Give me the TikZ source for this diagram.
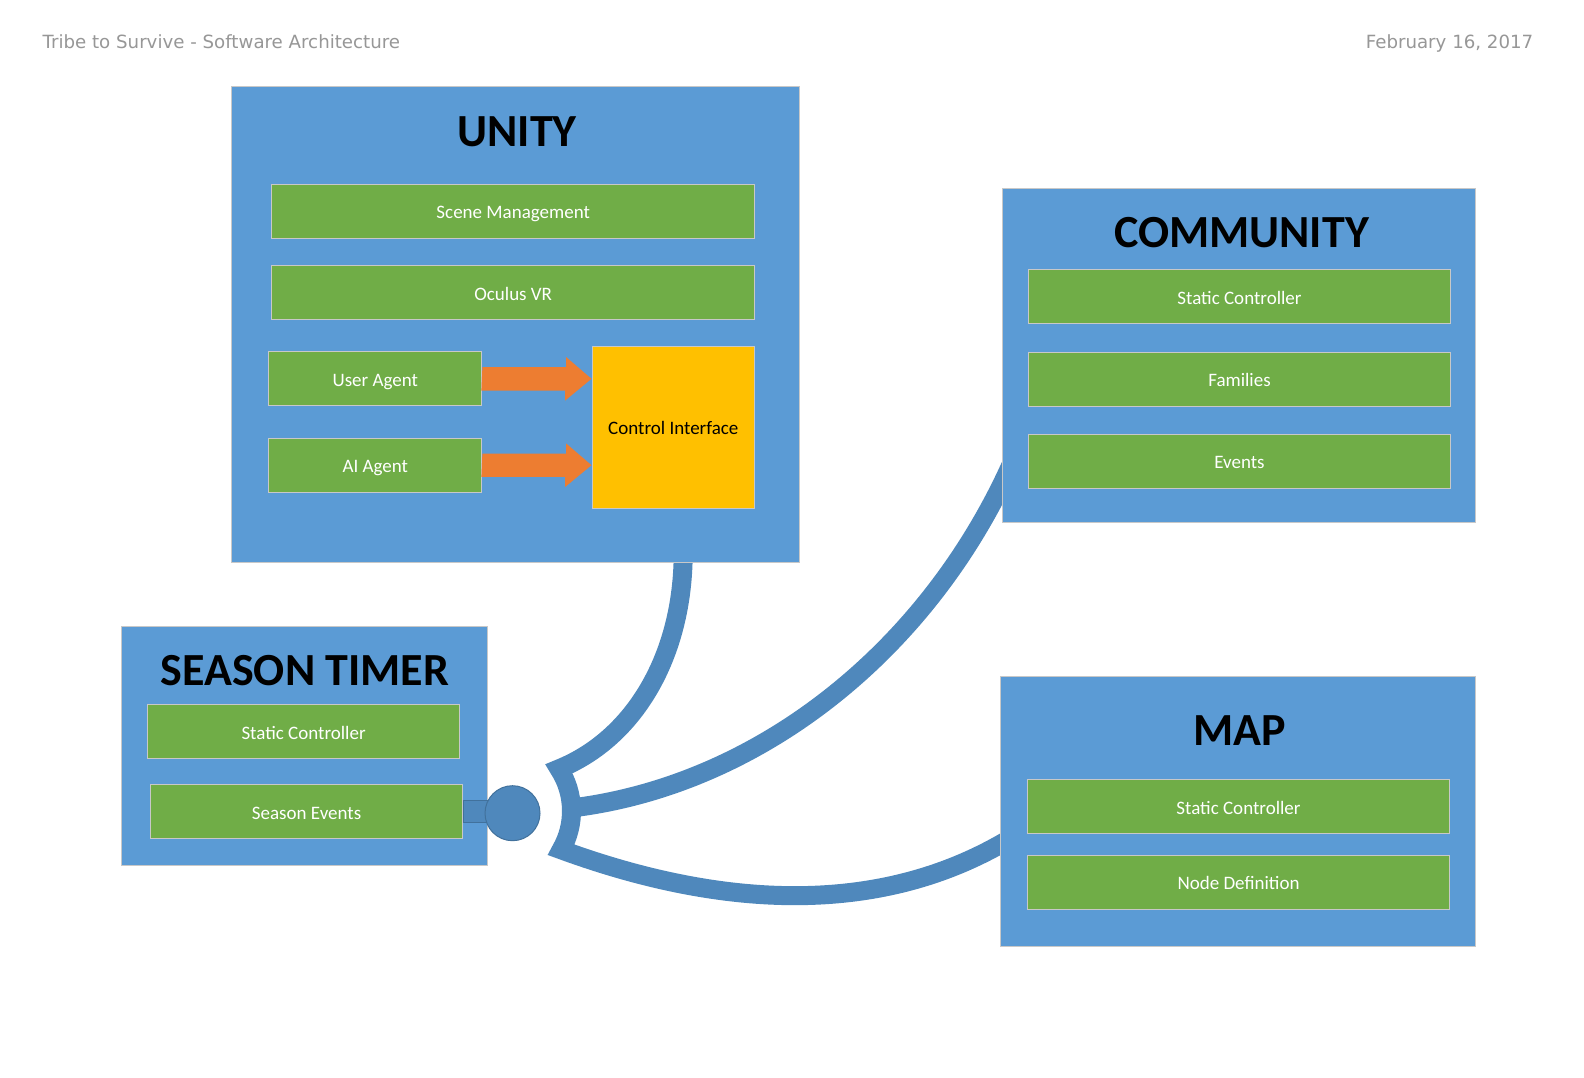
\documentclass[tikz,border=0pt]{standalone}
\usepackage{fontspec}
\setmainfont{Carlito}
\newfontfamily\headfont{DejaVu Sans}
\usetikzlibrary{backgrounds}
\definecolor{layerblue}{HTML}{5B9BD5}
\definecolor{modgreen}{HTML}{70AD47}
\definecolor{floworange}{HTML}{ED7D31}
\definecolor{ctrlgold}{HTML}{FFC000}
\definecolor{pipeblue}{HTML}{4F88BC}
\definecolor{hubedge}{HTML}{41719C}
\definecolor{edgegray}{HTML}{C8C8C8}
\definecolor{headgray}{HTML}{979797}
\tikzset{
  header/.style={font=\headfont\fontsize{18.2}{21}\selectfont, text=headgray, inner sep=0pt},
  layerbox/.style={draw=edgegray, line width=1pt, fill=layerblue, inner sep=0pt},
  layertitle/.style={font=\fontsize{46}{50}\selectfont\bfseries, inner sep=0pt},
  modulebox/.style={draw=edgegray, line width=1pt, fill=modgreen, text=white,
    font=\fontsize{19}{22}\selectfont, text height=15pt, text depth=0pt,
    minimum height=54pt, inner sep=0pt},
  ctrlbox/.style={draw=edgegray, line width=1pt, fill=ctrlgold,
    font=\fontsize{19}{22}\selectfont, text height=14pt, text depth=0pt, inner sep=0pt},
  flowarrow/.style={fill=floworange},
  pipe/.style={draw=pipeblue, line width=19pt, line join=miter},
  stub/.style={draw=hubedge, line width=0.6pt, fill=pipeblue},
  hub/.style={circle, draw=hubedge, line width=1pt, fill=pipeblue, minimum size=55pt, inner sep=0pt},
}
\begin{document}
\begin{tikzpicture}[x=1pt,y=-1pt]
\useasboundingbox (0,0) rectangle (1584,1077);

% header line
\node[header, anchor=base west] (doctitle) at (42.4,48.5) {Tribe to Survive - Software Architecture};
\node[header, anchor=base east] (docdate) at (1533.5,48.5) {February 16, 2017};

% unity
\node[layerbox, minimum width=567.8pt, minimum height=475.8pt] (unity) at (515.2,324.8) {};
\node[layertitle] (unitytitle) at (517,132) {UNITY};
\node[modulebox, minimum width=482.9pt] (scene) at (513.2,211.2) {Scene Management};
\node[modulebox, minimum width=482.9pt] (oculus) at (513.2,292.5) {Oculus VR};
\node[modulebox, minimum width=213.2pt] (useragent) at (375.3,378.8) {User Agent};
\node[modulebox, minimum width=213.2pt] (aiagent) at (375.3,465.2) {AI Agent};
\node[ctrlbox, minimum width=162.6pt, minimum height=161.6pt] (ctrl) at (673.3,427.3) {Control Interface};
\foreach \agent in {useragent,aiagent}
  \fill[flowarrow] (\agent.east) ++(0,-11.7) -- ++(83.8,0) -- ++(0,-10) -- (\agent.east -| ctrl.west)
    -- ++(-26.3,21.7) -- ++(0,-10) -- ++(-83.8,0) -- cycle;

% community
\node[layerbox, minimum width=473.8pt, minimum height=333.4pt] (community) at (1239,355.6) {};
\node[layertitle] (commtitle) at (1241.5,232.3) {COMMUNITY};
\node[modulebox, minimum width=422.2pt] (commstatic) at (1239.5,296.5) {Static Controller};
\node[modulebox, minimum width=422.2pt] (families) at (1239.5,379.4) {Families};
\node[modulebox, minimum width=422.2pt] (commevents) at (1239.5,461.2) {Events};

% map
\node[layerbox, minimum width=475.8pt, minimum height=269.8pt] (map) at (1238,811.7) {};
\node[layertitle] (maptitle) at (1239.5,730.4) {MAP};
\node[modulebox, minimum width=422.2pt] (mapstatic) at (1238.5,806.7) {Static Controller};
\node[modulebox, minimum width=422.2pt] (nodedef) at (1238.5,882.4) {Node Definition};

% season timer
\node[layerbox, minimum width=366.7pt, minimum height=239.4pt] (season) at (304.6,746) {};
\node[layertitle] (seasontitle) at (305,670.8) {SEASON TIMER};
\node[modulebox, minimum width=312.1pt] (seasonstatic) at (303.6,731.9) {Static Controller};
\node[modulebox, minimum width=312.2pt] (seasonevents) at (306.6,811.7) {Season Events};

% ball and socket
\draw[stub] (seasonevents.east) ++(0,-11) rectangle ++(40,22);
\node[hub] (hub) at (512.5,813.2) {};
\coordinate (sockettop) at (559,768.8);
\coordinate (socketmid) at (571.5,808);

\begin{scope}[on background layer]
\fill[white] (0,0) rectangle (1584,1077);
\draw[pipe] ([xshift=168pt,yshift=10pt]unity.south) .. controls (683,655) and (635,738) .. (sockettop)
  arc[start angle=-33, end angle=30, radius=77.5]
  .. controls (684.6,895) and (860,930) .. ([xshift=12pt,yshift=-26pt]map.west);
\draw[pipe] (socketmid) .. controls (760,785) and (928,650) .. ([xshift=10pt,yshift=-108pt]community.west);
\end{scope}
\end{tikzpicture}
\end{document}
